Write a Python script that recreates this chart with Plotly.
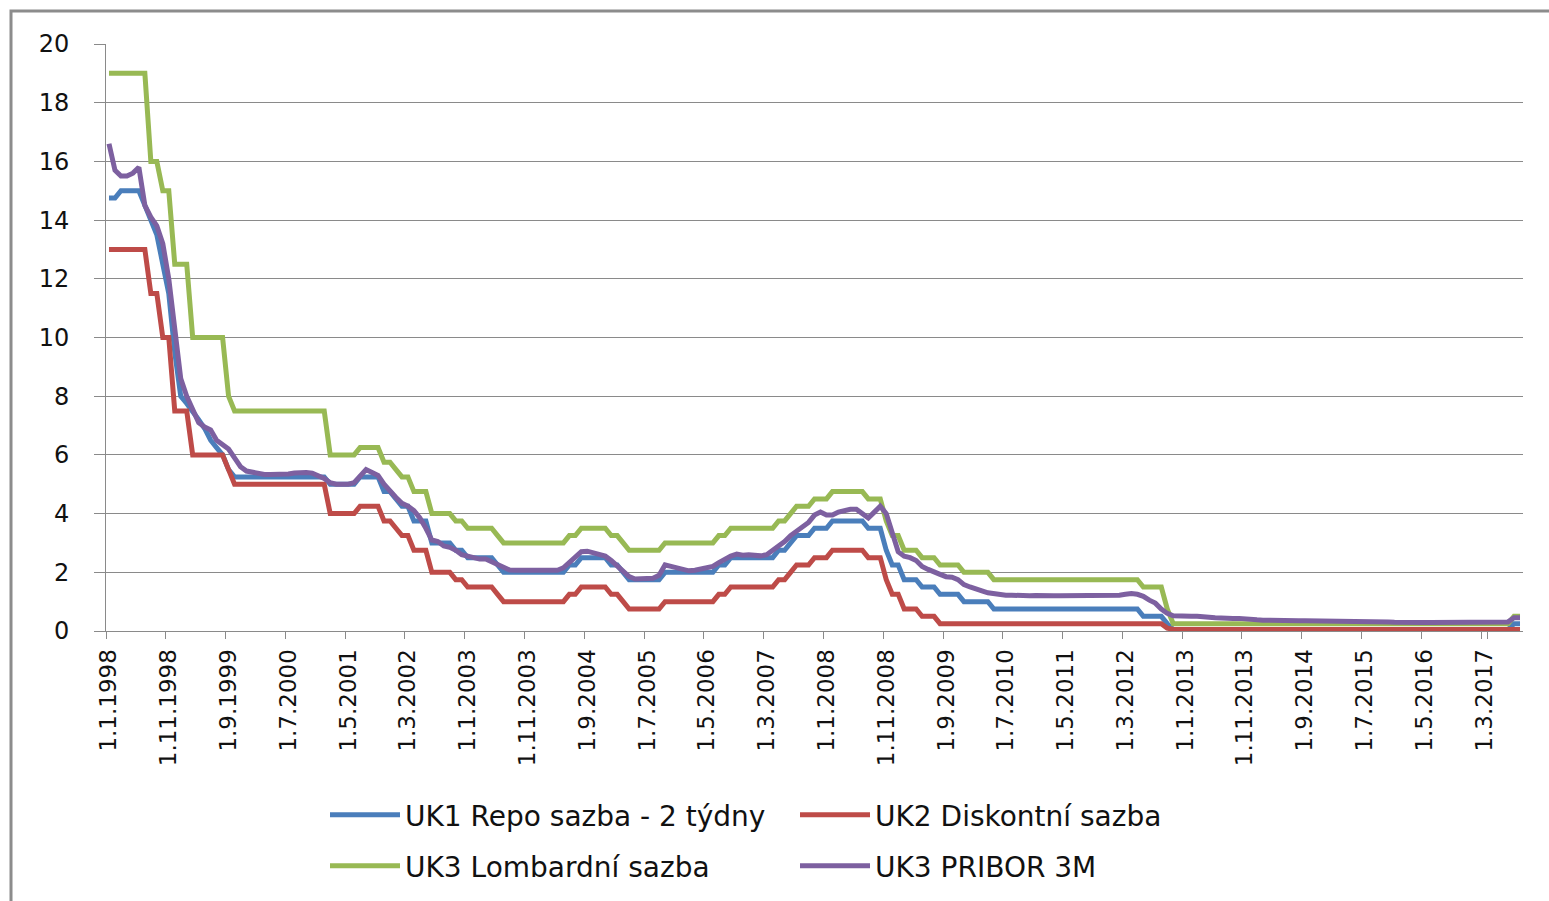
import plotly.graph_objects as go

# ---- categories (monthly, Jan 1998 .. Sep 2017) ----
months = [f"1.{m}.{y}" for y in range(1998, 2018) for m in range(1, 13)][:237]
tick_labels = months[::10]

# ---- series values (one value per month) ----
repo = [
    14.75, 14.75, 15.0, 15.0, 15.0, 15.0, 14.5, 14.0, 13.5, 12.5, 11.5, 9.5,      # 1998
    8.0, 7.75, 7.5, 7.2, 6.9, 6.5, 6.25, 6.0, 5.5, 5.25, 5.25, 5.25,            # 1999
    5.25, 5.25, 5.25, 5.25, 5.25, 5.25, 5.25, 5.25, 5.25, 5.25, 5.25, 5.25,     # 2000
    5.25, 5.0, 5.0, 5.0, 5.0, 5.0, 5.25, 5.25, 5.25, 5.25, 4.75, 4.75,          # 2001
    4.5, 4.25, 4.25, 3.75, 3.75, 3.75, 3.0, 3.0, 3.0, 3.0, 2.75, 2.75,          # 2002
    2.5, 2.5, 2.5, 2.5, 2.5, 2.25, 2.0, 2.0, 2.0, 2.0, 2.0, 2.0,                # 2003
    2.0, 2.0, 2.0, 2.0, 2.0, 2.25, 2.25, 2.5, 2.5, 2.5, 2.5, 2.5,               # 2004
    2.25, 2.25, 2.0, 1.75, 1.75, 1.75, 1.75, 1.75, 1.75, 2.0, 2.0, 2.0,         # 2005
    2.0, 2.0, 2.0, 2.0, 2.0, 2.0, 2.25, 2.25, 2.5, 2.5, 2.5, 2.5,               # 2006
    2.5, 2.5, 2.5, 2.5, 2.75, 2.75, 3.0, 3.25, 3.25, 3.25, 3.5, 3.5,            # 2007
    3.5, 3.75, 3.75, 3.75, 3.75, 3.75, 3.75, 3.5, 3.5, 3.5, 2.75, 2.25,         # 2008
    2.25, 1.75, 1.75, 1.75, 1.5, 1.5, 1.5, 1.25, 1.25, 1.25, 1.25, 1.0,         # 2009
    1.0, 1.0, 1.0, 1.0, 0.75, 0.75, 0.75, 0.75, 0.75, 0.75, 0.75, 0.75,         # 2010
    0.75, 0.75, 0.75, 0.75, 0.75, 0.75, 0.75, 0.75, 0.75, 0.75, 0.75, 0.75,     # 2011
    0.75, 0.75, 0.75, 0.75, 0.75, 0.5, 0.5, 0.5, 0.5, 0.25, 0.05, 0.05,         # 2012
    0.05, 0.05, 0.05, 0.05, 0.05, 0.05, 0.05, 0.05, 0.05, 0.05, 0.05, 0.05,     # 2013
    0.05, 0.05, 0.05, 0.05, 0.05, 0.05, 0.05, 0.05, 0.05, 0.05, 0.05, 0.05,     # 2014
    0.05, 0.05, 0.05, 0.05, 0.05, 0.05, 0.05, 0.05, 0.05, 0.05, 0.05, 0.05,     # 2015
    0.05, 0.05, 0.05, 0.05, 0.05, 0.05, 0.05, 0.05, 0.05, 0.05, 0.05, 0.05,     # 2016
    0.05, 0.05, 0.05, 0.05, 0.05, 0.05, 0.05, 0.25, 0.25,                       # 2017
]

discount = [
    13.0, 13.0, 13.0, 13.0, 13.0, 13.0, 13.0, 11.5, 11.5, 10.0, 10.0, 7.5,      # 1998
    7.5, 7.5, 6.0, 6.0, 6.0, 6.0, 6.0, 6.0, 5.5, 5.0, 5.0, 5.0,                 # 1999
    5.0, 5.0, 5.0, 5.0, 5.0, 5.0, 5.0, 5.0, 5.0, 5.0, 5.0, 5.0,                 # 2000
    5.0, 4.0, 4.0, 4.0, 4.0, 4.0, 4.25, 4.25, 4.25, 4.25, 3.75, 3.75,           # 2001
    3.5, 3.25, 3.25, 2.75, 2.75, 2.75, 2.0, 2.0, 2.0, 2.0, 1.75, 1.75,          # 2002
    1.5, 1.5, 1.5, 1.5, 1.5, 1.25, 1.0, 1.0, 1.0, 1.0, 1.0, 1.0,                # 2003
    1.0, 1.0, 1.0, 1.0, 1.0, 1.25, 1.25, 1.5, 1.5, 1.5, 1.5, 1.5,               # 2004
    1.25, 1.25, 1.0, 0.75, 0.75, 0.75, 0.75, 0.75, 0.75, 1.0, 1.0, 1.0,         # 2005
    1.0, 1.0, 1.0, 1.0, 1.0, 1.0, 1.25, 1.25, 1.5, 1.5, 1.5, 1.5,               # 2006
    1.5, 1.5, 1.5, 1.5, 1.75, 1.75, 2.0, 2.25, 2.25, 2.25, 2.5, 2.5,            # 2007
    2.5, 2.75, 2.75, 2.75, 2.75, 2.75, 2.75, 2.5, 2.5, 2.5, 1.75, 1.25,         # 2008
    1.25, 0.75, 0.75, 0.75, 0.5, 0.5, 0.5, 0.25, 0.25, 0.25, 0.25, 0.25,        # 2009
    0.25, 0.25, 0.25, 0.25, 0.25, 0.25, 0.25, 0.25, 0.25, 0.25, 0.25, 0.25,     # 2010
    0.25, 0.25, 0.25, 0.25, 0.25, 0.25, 0.25, 0.25, 0.25, 0.25, 0.25, 0.25,     # 2011
    0.25, 0.25, 0.25, 0.25, 0.25, 0.25, 0.25, 0.25, 0.25, 0.1, 0.05, 0.05,      # 2012
    0.05, 0.05, 0.05, 0.05, 0.05, 0.05, 0.05, 0.05, 0.05, 0.05, 0.05, 0.05,     # 2013
    0.05, 0.05, 0.05, 0.05, 0.05, 0.05, 0.05, 0.05, 0.05, 0.05, 0.05, 0.05,     # 2014
    0.05, 0.05, 0.05, 0.05, 0.05, 0.05, 0.05, 0.05, 0.05, 0.05, 0.05, 0.05,     # 2015
    0.05, 0.05, 0.05, 0.05, 0.05, 0.05, 0.05, 0.05, 0.05, 0.05, 0.05, 0.05,     # 2016
    0.05, 0.05, 0.05, 0.05, 0.05, 0.05, 0.05, 0.05, 0.05,                       # 2017
]

lombard = [
    19.0, 19.0, 19.0, 19.0, 19.0, 19.0, 19.0, 16.0, 16.0, 15.0, 15.0, 12.5,     # 1998
    12.5, 12.5, 10.0, 10.0, 10.0, 10.0, 10.0, 10.0, 8.0, 7.5, 7.5, 7.5,         # 1999
    7.5, 7.5, 7.5, 7.5, 7.5, 7.5, 7.5, 7.5, 7.5, 7.5, 7.5, 7.5,                 # 2000
    7.5, 6.0, 6.0, 6.0, 6.0, 6.0, 6.25, 6.25, 6.25, 6.25, 5.75, 5.75,           # 2001
    5.5, 5.25, 5.25, 4.75, 4.75, 4.75, 4.0, 4.0, 4.0, 4.0, 3.75, 3.75,          # 2002
    3.5, 3.5, 3.5, 3.5, 3.5, 3.25, 3.0, 3.0, 3.0, 3.0, 3.0, 3.0,                # 2003
    3.0, 3.0, 3.0, 3.0, 3.0, 3.25, 3.25, 3.5, 3.5, 3.5, 3.5, 3.5,               # 2004
    3.25, 3.25, 3.0, 2.75, 2.75, 2.75, 2.75, 2.75, 2.75, 3.0, 3.0, 3.0,         # 2005
    3.0, 3.0, 3.0, 3.0, 3.0, 3.0, 3.25, 3.25, 3.5, 3.5, 3.5, 3.5,               # 2006
    3.5, 3.5, 3.5, 3.5, 3.75, 3.75, 4.0, 4.25, 4.25, 4.25, 4.5, 4.5,            # 2007
    4.5, 4.75, 4.75, 4.75, 4.75, 4.75, 4.75, 4.5, 4.5, 4.5, 3.75, 3.25,         # 2008
    3.25, 2.75, 2.75, 2.75, 2.5, 2.5, 2.5, 2.25, 2.25, 2.25, 2.25, 2.0,         # 2009
    2.0, 2.0, 2.0, 2.0, 1.75, 1.75, 1.75, 1.75, 1.75, 1.75, 1.75, 1.75,         # 2010
    1.75, 1.75, 1.75, 1.75, 1.75, 1.75, 1.75, 1.75, 1.75, 1.75, 1.75, 1.75,     # 2011
    1.75, 1.75, 1.75, 1.75, 1.75, 1.5, 1.5, 1.5, 1.5, 0.75, 0.25, 0.25,         # 2012
    0.25, 0.25, 0.25, 0.25, 0.25, 0.25, 0.25, 0.25, 0.25, 0.25, 0.25, 0.25,     # 2013
    0.25, 0.25, 0.25, 0.25, 0.25, 0.25, 0.25, 0.25, 0.25, 0.25, 0.25, 0.25,     # 2014
    0.25, 0.25, 0.25, 0.25, 0.25, 0.25, 0.25, 0.25, 0.25, 0.25, 0.25, 0.25,     # 2015
    0.25, 0.25, 0.25, 0.25, 0.25, 0.25, 0.25, 0.25, 0.25, 0.25, 0.25, 0.25,     # 2016
    0.25, 0.25, 0.25, 0.25, 0.25, 0.25, 0.25, 0.5, 0.5,                         # 2017
]

pribor3m = [
    16.6, 15.7, 15.5, 15.5, 15.6, 15.8, 14.5, 14.1, 13.8, 13.2, 12.0, 10.3,     # 1998
    8.6, 8.0, 7.5, 7.1, 6.95, 6.85, 6.5, 6.35, 6.2, 5.9, 5.6, 5.45,             # 1999
    5.4, 5.35, 5.33, 5.33, 5.33, 5.35, 5.35, 5.38, 5.4, 5.4, 5.38, 5.3,         # 2000
    5.2, 5.05, 5.0, 5.0, 5.0, 5.05, 5.3, 5.5, 5.4, 5.3, 5.0, 4.75,              # 2001
    4.55, 4.35, 4.25, 4.1, 3.85, 3.5, 3.1, 3.05, 2.9, 2.85, 2.75, 2.6,          # 2002
    2.55, 2.5, 2.45, 2.45, 2.35, 2.25, 2.15, 2.08, 2.07, 2.07, 2.07, 2.07,      # 2003
    2.07, 2.07, 2.07, 2.07, 2.15, 2.35, 2.55, 2.7, 2.72, 2.65, 2.6, 2.55,       # 2004
    2.4, 2.2, 2.0, 1.85, 1.77, 1.77, 1.78, 1.8, 1.9, 2.25, 2.2, 2.15,           # 2005
    2.07, 2.05, 2.07, 2.1, 2.13, 2.2, 2.33, 2.45, 2.55, 2.62, 2.58, 2.6,        # 2006
    2.58, 2.56, 2.6, 2.75, 2.85, 3.05, 3.25, 3.4, 3.55, 3.7, 3.95, 4.05,        # 2007
    3.95, 3.95, 4.05, 4.1, 4.15, 4.15, 4.0, 3.85, 4.05, 4.25, 4.0, 3.3,         # 2008
    2.7, 2.55, 2.5, 2.4, 2.2, 2.1, 2.0, 1.93, 1.85, 1.83, 1.75, 1.58,           # 2009
    1.5, 1.45, 1.37, 1.3, 1.26, 1.24, 1.22, 1.22, 1.2, 1.2, 1.2, 1.21,          # 2010
    1.22, 1.22, 1.2, 1.2, 1.2, 1.19, 1.2, 1.2, 1.19, 1.18, 1.18, 1.19,          # 2011
    1.2, 1.22, 1.25, 1.28, 1.25, 1.18, 1.05, 0.95, 0.75, 0.6, 0.52, 0.5,        # 2012
    0.5, 0.5, 0.5, 0.5, 0.47, 0.45, 0.43, 0.43, 0.43, 0.43, 0.4, 0.38,          # 2013
    0.38, 0.37, 0.36, 0.35, 0.35, 0.35, 0.35, 0.35, 0.35, 0.35, 0.35, 0.35,     # 2014
    0.33, 0.31, 0.31, 0.31, 0.31, 0.31, 0.31, 0.31, 0.31, 0.31, 0.31, 0.3,      # 2015
    0.29, 0.29, 0.29, 0.29, 0.29, 0.29, 0.29, 0.29, 0.29, 0.29, 0.29, 0.29,     # 2016
    0.29, 0.29, 0.29, 0.29, 0.3, 0.3, 0.31, 0.45, 0.45,                         # 2017
]

y_ticks = [0, 2, 4, 6, 8, 10, 12, 14, 16, 18, 20]

series = [
    ("UK1 Repo sazba - 2 týdny", repo, "#4A7EBB", "legend"),
    ("UK2 Diskontní sazba", discount, "#BE4B48", "legend"),
    ("UK3 Lombardní sazba", lombard, "#98B954", "legend2"),
    ("UK3 PRIBOR 3M", pribor3m, "#7D60A0", "legend2"),
]

# ---- layout geometry (pixels) ----
W, H = 1549, 901
L, R, T, B = 106, 26, 44, 269
PW, PH = W - L - R, H - T - B

def px(xpix):
    return (xpix - L) / PW

def py(ypix):
    return (H - B - ypix) / PH

FONT = "DejaVu Sans"
GRID = "#8a8a8a"

fig = go.Figure()
for name, vals, color, leg in series:
    fig.add_trace(go.Scatter(
        x=months, y=vals, mode="lines", name=name,
        line=dict(color=color, width=5),
        legend=leg,
    ))

legend_common = dict(
    orientation="h", xanchor="left", yanchor="middle",
    entrywidth=385, entrywidthmode="pixels",
    itemwidth=70,
    font=dict(family=FONT, size=28, color="#111111"),
    bgcolor="rgba(0,0,0,0)", traceorder="normal",
)

fig.update_layout(
    width=W, height=H,
    margin=dict(l=L, r=R, t=T, b=B, pad=0),
    paper_bgcolor="white", plot_bgcolor="white",
    font=dict(family=FONT, color="#111111"),
    showlegend=True,
    legend=dict(x=px(325), y=py(815), **legend_common),
    legend2=dict(x=px(325), y=py(866), **legend_common),
    xaxis=dict(
        type="category",
        range=[-0.5, len(months) - 0.5],
        tickmode="array", tickvals=tick_labels, ticktext=tick_labels,
        tickson="boundaries",
        ticks="outside", ticklen=7, tickcolor=GRID, tickwidth=1,
        showline=True, linecolor=GRID, linewidth=1,
        showgrid=False, zeroline=False,
        tickangle=-90,
        tickfont=dict(family=FONT, size=23, color="#111111"),
        ticklabelstandoff=8,
        fixedrange=True,
    ),
    yaxis=dict(
        range=[0, 20],
        tickmode="array", tickvals=y_ticks, ticktext=[str(v) for v in y_ticks],
        ticks="outside", ticklen=11, tickcolor=GRID, tickwidth=1,
        showline=True, linecolor=GRID, linewidth=1,
        showgrid=True, gridcolor=GRID, gridwidth=1,
        zeroline=False,
        tickfont=dict(family=FONT, size=24, color="#111111"),
        ticklabelstandoff=20,
        fixedrange=True,
    ),
    shapes=[
        dict(type="rect", xref="paper", yref="paper",
             x0=px(11), x1=px(1600), y0=py(960), y1=py(11),
             line=dict(color="#8c8c8c", width=3), fillcolor="rgba(0,0,0,0)",
             layer="below"),
    ],
)

fig.write_html(
    "out.html",
    include_plotlyjs=True,
    config={"displayModeBar": False, "responsive": False},
    post_script="document.body.style.margin='0';document.body.style.overflow='hidden';",
)
